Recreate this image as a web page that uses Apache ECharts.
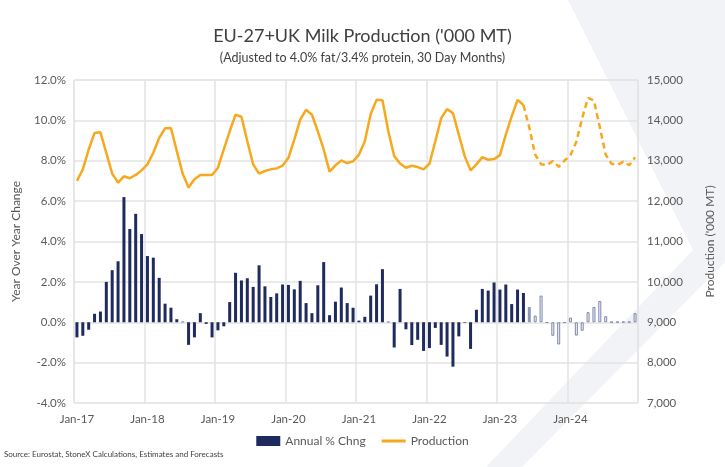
<!DOCTYPE html>
<html>
<head>
<meta charset="utf-8">
<script src="https://cdn.jsdelivr.net/npm/echarts@6/dist/echarts.min.js"></script>
<style>html,body{margin:0;padding:0;background:#fff}#c{width:725px;height:467px}</style>
</head>
<body>
<div id="c"></div>
<script>
// ---- data ----
var monthNames = ['Jan','Feb','Mar','Apr','May','Jun','Jul','Aug','Sep','Oct','Nov','Dec'];
var years = ['17','18','19','20','21','22','23','24'];
var categories = [];
years.forEach(function (y) { monthNames.forEach(function (m) { categories.push(m + '-' + y); }); });

// Annual % change, Jan-17 .. May-23 (actual)
var yoyActual = [
  -0.75, -0.67, -0.37, 0.42, 0.53, 2.0, 2.58, 3.02, 6.2, 4.62, 5.37, 4.37,
  3.28, 3.2, 2.2, 0.92, 0.72, 0.15, 0.03, -1.12, -0.75, 0.45, -0.08, -0.75,
  -0.4, -0.2, 1.0, 2.45, 2.07, 2.18, 1.75, 2.82, 1.78, 1.25, 1.43, 1.87,
  1.85, 1.63, 2.05, 0.95, 0.45, 1.83, 2.98, 0.35, 1.02, 1.72, 0.95, 0.72,
  0.08, 0.27, 1.32, 1.88, 2.63, 0.03, -1.25, 1.65, -0.35, -1.13, -0.87, -1.42,
  -1.28, -0.28, -1.12, -1.7, -2.2, -0.7, -0.03, -1.32, 0.62, 1.65, 1.57, 1.97,
  1.62, 1.87, 0.9, 1.62, 1.45
];
// Jun-23 (estimate)
var yoyEstimate = [0.75];
// Jul-23 .. Dec-24 (forecast)
var yoyForecast = [
  0.33, 1.32, -0.03, -0.67, -1.1, -0.03, 0.23, -0.66, -0.42, 0.5, 0.76, 1.05,
  0.3, 0.02, 0.02, 0.02, 0.02, 0.45
];

// Production ('000 MT), Jan-17 .. May-23 (actual)
var prodActual = [
  12500, 12787, 13279, 13689, 13705, 13197, 12680, 12459, 12615, 12566, 12648, 12762,
  12910, 13197, 13566, 13803, 13811, 13238, 12680, 12336, 12541, 12648, 12648, 12648,
  12828, 13279, 13730, 14139, 14090, 13484, 12910, 12680, 12746, 12787, 12811, 12877,
  13074, 13525, 14016, 14262, 14139, 13730, 13279, 12730, 12885, 13008, 12943, 12985,
  13150, 13484, 14156, 14508, 14500, 13730, 13115, 12934, 12828, 12877, 12844, 12787,
  12926, 13484, 14057, 14279, 14180, 13648, 13115, 12762, 12910, 13090, 13025, 13041,
  13139, 13648, 14098, 14508, 14380
];
// Jun-23 .. Dec-24 (estimates and forecasts)
var prodForecast = [
  13820, 13150, 12915, 12890, 12995, 12850, 13005, 13135, 13470, 14058, 14560, 14490,
  13830, 13150, 12925, 12895, 12978, 12888, 13085
];

// ---- build padded series ----
var n = categories.length;
function pad(arr, start) {
  var out = [];
  for (var i = 0; i < n; i++) {
    var k = i - start;
    out.push(k >= 0 && k < arr.length ? arr[k] : '-');
  }
  return out;
}
var estStart = yoyActual.length;
var fcStart = estStart + yoyEstimate.length;
var prodFcStart = prodActual.length - 1;
var prodFcData = pad([prodActual[prodActual.length - 1]].concat(prodForecast), prodFcStart);
prodFcData[prodFcStart] = { value: prodFcData[prodFcStart], symbol: 'circle', symbolSize: 6 };

var FONT = 'Lato, "Open Sans", sans-serif';
var NAVY = '#1F2A5E';
var GOLD = '#F6A91E';
var GRID = '#E3E3E3';
var TXT = '#595959';

var chart = echarts.init(document.getElementById('c'), null, { renderer: 'canvas' });
chart.setOption({
  backgroundColor: '#ffffff',
  animation: false,
  textStyle: { fontFamily: FONT },
  graphic: [
    {
      type: 'polygon', z: -10, silent: true,
      shape: { points: [[568, 0], [725, 0], [725, 262], [522, 467], [486, 467], [693, 250]] },
      style: { fill: '#F2F3F6' }
    },
    {
      type: 'text', left: 4, top: 450, silent: true,
      style: { text: 'Source: Eurostat, StoneX Calculations, Estimates and Forecasts',
               fill: '#404040', font: '8px ' + FONT }
    }
  ],
  title: {
    text: "EU-27+UK Milk Production ('000 MT)",
    subtext: '(Adjusted to 4.0% fat/3.4% protein, 30 Day Months)',
    left: 'center', top: 22, itemGap: 6,
    textStyle: { fontFamily: FONT, fontSize: 18, fontWeight: 'normal', color: '#404040' },
    subtextStyle: { fontFamily: FONT, fontSize: 12.5, color: '#404040' }
  },
  legend: {
    bottom: 15, left: 'center', itemGap: 16, itemWidth: 24, itemHeight: 10,
    textStyle: { fontFamily: FONT, fontSize: 12, color: TXT },
    data: [
      { name: 'Annual % Chng', icon: 'rect' },
      { name: 'Production', icon: 'path://M0,0H24V3H0Z' }
    ]
  },
  grid: {
    left: 74, right: 87, top: 80, bottom: 64,
    show: true, borderColor: GRID, borderWidth: 1, backgroundColor: 'transparent'
  },
  xAxis: {
    type: 'category', data: categories, boundaryGap: true,
    axisLine: { show: false }, axisTick: { show: false },
    axisLabel: { interval: 11, color: TXT, fontSize: 11.5, margin: 10, fontFamily: FONT },
    splitLine: { show: true, interval: 11, lineStyle: { color: GRID, width: 1.5 } }
  },
  yAxis: [
    {
      type: 'value', min: -4, max: 12, interval: 2, position: 'left',
      name: 'Year Over Year Change', nameLocation: 'middle', nameGap: 52, nameRotate: 90,
      nameTextStyle: { color: TXT, fontSize: 12, fontFamily: FONT },
      axisLine: { show: false }, axisTick: { show: false },
      axisLabel: { color: TXT, fontSize: 11.5, margin: 8, fontFamily: FONT,
                   formatter: function (v) { return v.toFixed(1) + '%'; } },
      splitLine: { lineStyle: { color: GRID, width: 1.5 } }
    },
    {
      type: 'value', min: 7000, max: 15000, interval: 1000, position: 'right',
      name: "Production ('000 MT)", nameLocation: 'middle', nameGap: 66, nameRotate: 90,
      nameTextStyle: { color: TXT, fontSize: 12, fontFamily: FONT },
      axisLine: { show: false }, axisTick: { show: false },
      axisLabel: { color: TXT, fontSize: 11.5, margin: 9, fontFamily: FONT,
                   formatter: function (v) { return v.toLocaleString('en-US'); } },
      splitLine: { show: false }
    }
  ],
  series: [
    {
      name: 'Annual % Chng', type: 'bar', yAxisIndex: 0, barWidth: 3, barGap: '-100%',
      itemStyle: { color: NAVY }, data: pad(yoyActual, 0), z: 2
    },
    {
      name: 'Annual % Chng (estimate)', type: 'bar', yAxisIndex: 0, barWidth: 3, barGap: '-100%',
      itemStyle: { color: '#8E96B8' }, data: pad(yoyEstimate, estStart), z: 2
    },
    {
      name: 'Annual % Chng (forecast)', type: 'bar', yAxisIndex: 0, barWidth: 3, barGap: '-100%',
      itemStyle: { color: '#F4F5F9', borderColor: '#7C85AB', borderWidth: 1 },
      data: pad(yoyForecast, fcStart), z: 2
    },
    {
      name: 'Production', type: 'line', yAxisIndex: 1, symbol: 'none', showSymbol: false,
      lineStyle: { color: GOLD, width: 2.5 }, itemStyle: { color: GOLD },
      data: pad(prodActual, 0), z: 3
    },
    {
      name: 'Production (forecast)', type: 'line', yAxisIndex: 1, symbol: 'none', showSymbol: true,
      lineStyle: { color: GOLD, width: 2.5, type: [6, 4] }, itemStyle: { color: GOLD },
      data: prodFcData, z: 3
    }
  ]
});
</script>
</body>
</html>
